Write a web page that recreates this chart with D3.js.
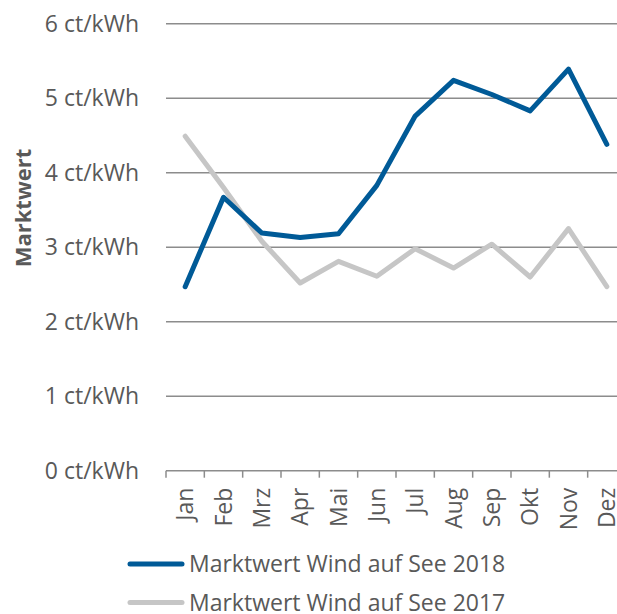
<!DOCTYPE html>
<html>
<head>
<meta charset="utf-8">
<script src="https://cdn.jsdelivr.net/npm/d3@7"></script>
<style>
  body { margin: 0; background: #fff; }
  svg { font-family: "Open Sans", sans-serif; }
</style>
</head>
<body>
<svg id="chart"></svg>
<script>
// data
const months = ['Jan', 'Feb', 'Mrz', 'Apr', 'Mai', 'Jun', 'Jul', 'Aug', 'Sep', 'Okt', 'Nov', 'Dez'];
const wind2018 = [2.47, 3.67, 3.19, 3.13, 3.18, 3.83, 4.76, 5.24, 5.05, 4.83, 5.39, 4.38];
const wind2017 = [4.49, 3.80, 3.08, 2.52, 2.81, 2.61, 2.98, 2.72, 3.04, 2.60, 3.25, 2.47];
const yTicks = [0, 1, 2, 3, 4, 5, 6];
const seriesNames = ['Marktwert Wind auf See 2018', 'Marktwert Wind auf See 2017'];

const width = 617, height = 614;
const svg = d3.select('#chart').attr('width', width).attr('height', height);

const x = d3.scaleBand().domain(months).range([166, 626]);
const y = d3.scaleLinear().domain([0, 6]).range([470.7, 23.7]);

// gridlines + y labels
const yAxis = d3.axisLeft(y)
    .tickValues(yTicks)
    .tickSize(0)
    .tickPadding(27)
    .tickFormat(d => d + ' ct/kWh');

svg.append('g')
    .attr('transform', 'translate(166,0)')
    .call(yAxis)
    .call(g => g.select('.domain').remove())
    .call(g => g.selectAll('text')
        .attr('fill', '#595959')
        .style('font-family', '"Open Sans", sans-serif')
        .style('font-size', '23px'));

svg.append('g')
    .selectAll('line')
    .data(yTicks.filter(d => d > 0))
    .join('line')
    .attr('x1', 166).attr('x2', width)
    .attr('y1', d => y(d)).attr('y2', d => y(d))
    .attr('stroke', '#8c8c8c')
    .attr('stroke-width', 1.5);

// x axis with ticks between the categories
const xAxis = svg.append('g').attr('transform', `translate(0,${y(0)})`);
xAxis.append('line')
    .attr('x1', 166).attr('x2', width)
    .attr('stroke', '#8c8c8c').attr('stroke-width', 1.5);
xAxis.selectAll('.tk')
    .data(months)
    .join('line').attr('class', 'tk')
    .attr('x1', d => x(d)).attr('x2', d => x(d))
    .attr('y1', 0).attr('y2', 7)
    .attr('stroke', '#8c8c8c').attr('stroke-width', 1.5);
xAxis.selectAll('text')
    .data(months)
    .join('text')
    .attr('transform', d => `translate(${x(d) + x.bandwidth() / 2 + 8},17) rotate(-90)`)
    .attr('text-anchor', 'end')
    .attr('fill', '#595959')
    .style('font-size', '23px')
    .text(d => d);

// axis title
svg.append('text')
    .attr('transform', 'translate(31,208) rotate(-90)')
    .attr('text-anchor', 'middle')
    .attr('fill', '#595959')
    .style('font-size', '22px')
    .style('font-weight', 'bold')
    .text('Marktwert');

const line = d3.line()
    .x((d, i) => x(months[i]) + x.bandwidth() / 2)
    .y(d => y(d));

svg.append('path')
    .datum(wind2017)
    .attr('d', line)
    .attr('fill', 'none')
    .attr('stroke', '#c6c6c6')
    .attr('stroke-width', 5)
    .attr('stroke-linecap', 'round')
    .attr('stroke-linejoin', 'round');

svg.append('path')
    .datum(wind2018)
    .attr('d', line)
    .attr('fill', 'none')
    .attr('stroke', '#005a97')
    .attr('stroke-width', 5)
    .attr('stroke-linecap', 'round')
    .attr('stroke-linejoin', 'round');

// legend
const colors = ['#005a97', '#c6c6c6'];
const legend = svg.append('g')
    .selectAll('g')
    .data(seriesNames)
    .join('g')
    .attr('transform', (d, i) => `translate(0,${564 + i * 38.5})`);
legend.append('line')
    .attr('x1', 130).attr('x2', 182)
    .attr('stroke', (d, i) => colors[i])
    .attr('stroke-width', 5)
    .attr('stroke-linecap', 'round');
legend.append('text')
    .attr('x', 189)
    .attr('dy', '0.35em')
    .attr('fill', '#595959')
    .style('font-size', '23px')
    .text(d => d);
</script>
</body>
</html>
